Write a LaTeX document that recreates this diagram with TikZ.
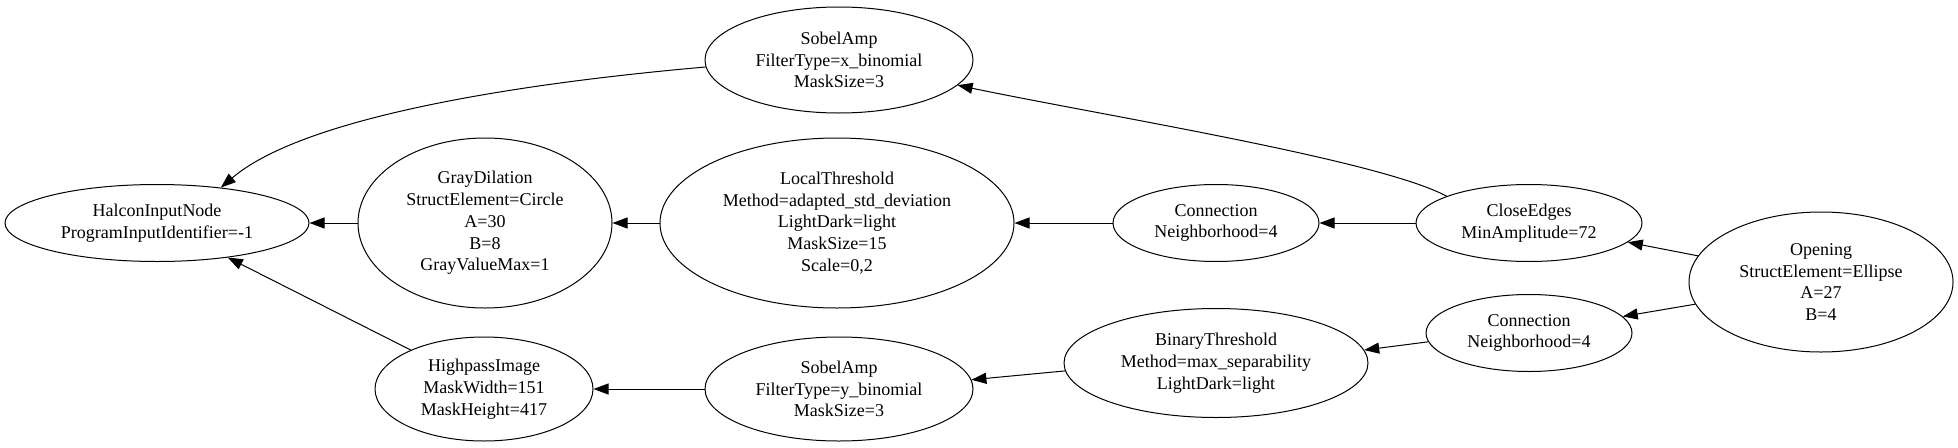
\documentclass[tikz,border=0pt]{standalone}
\usepackage{fontspec}
\setmainfont{Liberation Serif}
\usetikzlibrary{shapes.geometric,arrows.meta}
\begin{document}
\begin{tikzpicture}[x=1pt,y=-1pt,
  el/.style={draw,ellipse,line width=1pt,inner sep=0pt,align=center,
    font=\fontsize{18}{21.7}\selectfont},
  edge/.style={line width=1pt,-{Triangle[length=15pt,width=11pt]}}]
\useasboundingbox[fill=white] (0,0) rectangle (1958,447);
\node[el,minimum width=304pt,minimum height=77pt] (h) at (157,223) {HalconInputNode\\ProgramInputIdentifier=-1};
\node[el,minimum width=254pt,minimum height=170pt] (gd) at (485,223) {GrayDilation\\StructElement=Circle\\A=30\\B=8\\GrayValueMax=1};
\node[el,minimum width=354pt,minimum height=170pt] (lt) at (837,223) {LocalThreshold\\Method=adapted\_std\_deviation\\LightDark=light\\MaskSize=15\\Scale=0,2};
\node[el,minimum width=268pt,minimum height=106pt] (sx) at (839,60) {SobelAmp\\FilterType=x\_binomial\\MaskSize=3};
\node[el,minimum width=218pt,minimum height=104pt] (hp) at (484,389) {HighpassImage\\MaskWidth=151\\MaskHeight=417};
\node[el,minimum width=268pt,minimum height=104pt] (sy) at (839,389) {SobelAmp\\FilterType=y\_binomial\\MaskSize=3};
\node[el,minimum width=206pt,minimum height=77pt] (c1) at (1216,223) {Connection\\Neighborhood=4};
\node[el,minimum width=226pt,minimum height=77pt] (ce) at (1529,223) {CloseEdges\\MinAmplitude=72};
\node[el,minimum width=264pt,minimum height=140pt] (op) at (1821,282) {Opening\\StructElement=Ellipse\\A=27\\B=4};
\node[el,minimum width=206pt,minimum height=77pt] (c2) at (1529,333) {Connection\\Neighborhood=4};
\node[el,minimum width=304pt,minimum height=109pt] (bt) at (1216,363) {BinaryThreshold\\Method=max\_separability\\LightDark=light};
\draw[edge] (sx.183) .. controls (500,85) and (300,120) .. (h.29);
\draw[edge] (gd) -- (h);
\draw[edge] (lt) -- (gd);
\draw[edge] (c1) -- (lt);
\draw[edge] (ce) -- (c1);
\draw[edge] (ce.162) .. controls (1380,160) and (1100,115) .. (sx.-12);
\draw[edge] (hp.152) -- (h.-26);
\draw[edge] (op.168.5) -- (ce.-11.2);
\draw[edge] (op.190) -- (c2.10);
\draw[edge] (c2.185.6) -- (bt.5.8);
\draw[edge] (bt.183.8) -- (sy.4.8);
\draw[edge] (sy) -- (hp);
\end{tikzpicture}
\end{document}
